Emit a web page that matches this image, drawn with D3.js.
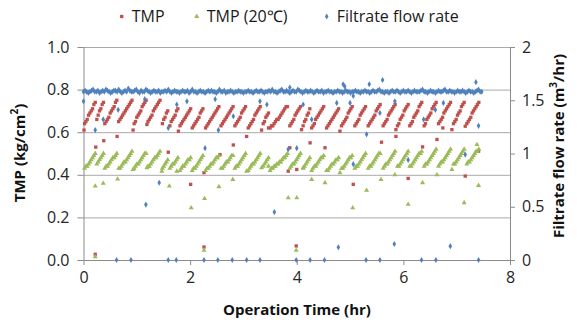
<!DOCTYPE html>
<html><head><meta charset="utf-8">
<script src="https://cdn.jsdelivr.net/npm/d3@7"></script>
<style>
body{margin:0;background:#fff}
svg{display:block}
text{font-family:"Open Sans",sans-serif}
</style>
</head><body>
<svg id="c" width="577" height="322"></svg>
<script>
// ---------- data ----------
const xTicks = [0, 2, 4, 6, 8];
const yLeftTicks = [0, 0.2, 0.4, 0.6, 0.8, 1.0];
const yRightTicks = [0, 0.5, 1, 1.5, 2];
const seriesNames = ["TMP", "TMP (20\u2103)", "Filtrate flow rate"];

// filtration cycles: start time (hr) of each run, logged every sampleStep hr
const sampleStep = 0.025;
const cycleStart = [0.02,0.25,0.40,0.66,0.95,1.21,1.48,1.62,1.81,2.04,2.29,2.58,2.84,3.09,3.37,3.50,3.87,4.12,4.28,4.56,4.84,5.09,5.34,5.62,5.89,6.12,6.39,6.66,6.94,7.19];

const tmpCycles = [
 [0.64,0.65,0.66,0.68,0.69,0.70,0.71,0.73,0.74],
 [0.66,0.68,0.70,0.71,0.73,0.74],
 [0.64,0.65,0.66,0.67,0.69,0.70,0.71,0.72,0.74,0.75],
 [0.65,0.66,0.67,0.68,0.69,0.70,0.71,0.72,0.73,0.74,0.75],
 [0.64,0.65,0.67,0.68,0.69,0.70,0.72,0.73,0.74,0.75],
 [0.65,0.66,0.67,0.68,0.70,0.71,0.72,0.73,0.74,0.75],
 [0.64,0.66,0.67,0.69,0.70],
 [0.63,0.65,0.66,0.67,0.68,0.70,0.71],
 [0.63,0.64,0.65,0.66,0.67,0.68,0.69,0.70,0.71],
 [0.62,0.63,0.64,0.65,0.66,0.67,0.69,0.70,0.71],
 [0.62,0.63,0.64,0.65,0.66,0.67,0.68,0.69,0.70,0.71,0.72],
 [0.63,0.64,0.65,0.66,0.67,0.68,0.69,0.70,0.71,0.72],
 [0.63,0.64,0.65,0.66,0.67,0.69,0.70,0.71,0.72],
 [0.62,0.63,0.64,0.65,0.66,0.68,0.69,0.70,0.71,0.72],
 [0.64,0.65,0.67,0.68,0.69],
 [0.62,0.63,0.63,0.64,0.65,0.66,0.66,0.67,0.68,0.69,0.70,0.71,0.72,0.72],
 [0.63,0.64,0.65,0.66,0.68,0.69,0.70,0.71,0.72],
 [0.63,0.65,0.66,0.68,0.69,0.71],
 [0.62,0.63,0.64,0.66,0.67,0.68,0.69,0.70,0.71,0.72],
 [0.62,0.63,0.64,0.65,0.66,0.67,0.68,0.69,0.70,0.71],
 [0.63,0.64,0.65,0.66,0.67,0.69,0.70,0.71,0.72],
 [0.63,0.64,0.65,0.66,0.68,0.69,0.70,0.71,0.72],
 [0.63,0.64,0.65,0.66,0.67,0.68,0.70,0.71,0.72,0.73],
 [0.63,0.64,0.65,0.66,0.68,0.69,0.70,0.71,0.72,0.73],
 [0.63,0.64,0.66,0.67,0.68,0.70,0.71,0.72,0.73],
 [0.63,0.64,0.65,0.67,0.68,0.69,0.70,0.72,0.73,0.74],
 [0.63,0.64,0.66,0.67,0.68,0.69,0.71,0.72,0.73,0.74],
 [0.64,0.65,0.66,0.67,0.69,0.70,0.71,0.72,0.73,0.74],
 [0.64,0.65,0.66,0.68,0.69,0.70,0.72,0.73,0.74],
 [0.64,0.65,0.66,0.67,0.69,0.70,0.71,0.72,0.73,0.74]
];

const tmp20Cycles = [
 [0.43,0.44,0.44,0.45,0.46,0.47,0.48,0.49,0.50],
 [0.45,0.46,0.47,0.48,0.49,0.50],
 [0.43,0.44,0.44,0.45,0.46,0.47,0.48,0.48,0.49,0.50],
 [0.43,0.43,0.44,0.45,0.46,0.46,0.47,0.48,0.49,0.50,0.51],
 [0.43,0.44,0.45,0.45,0.46,0.47,0.48,0.49,0.50,0.50],
 [0.44,0.44,0.45,0.46,0.47,0.48,0.48,0.49,0.50,0.51],
 [0.43,0.44,0.45,0.46,0.47],
 [0.43,0.44,0.45,0.45,0.46,0.47,0.48],
 [0.42,0.43,0.44,0.44,0.45,0.46,0.47,0.47,0.48],
 [0.42,0.43,0.43,0.44,0.45,0.46,0.47,0.48,0.49],
 [0.42,0.43,0.43,0.44,0.45,0.45,0.46,0.47,0.48,0.48,0.49],
 [0.43,0.43,0.44,0.45,0.46,0.46,0.47,0.48,0.49,0.49],
 [0.43,0.44,0.44,0.45,0.46,0.47,0.48,0.49,0.50],
 [0.42,0.43,0.44,0.45,0.45,0.46,0.47,0.48,0.49,0.50],
 [0.44,0.45,0.46,0.47,0.48],
 [0.42,0.43,0.43,0.44,0.44,0.45,0.45,0.46,0.46,0.47,0.48,0.48,0.49,0.50],
 [0.43,0.44,0.45,0.45,0.46,0.47,0.48,0.49,0.50],
 [0.43,0.44,0.45,0.46,0.47,0.48],
 [0.42,0.43,0.44,0.44,0.45,0.46,0.47,0.48,0.48,0.49],
 [0.42,0.42,0.43,0.44,0.45,0.45,0.46,0.47,0.47,0.48],
 [0.43,0.43,0.44,0.45,0.46,0.47,0.48,0.48,0.49],
 [0.43,0.44,0.44,0.45,0.46,0.47,0.48,0.49,0.50],
 [0.43,0.44,0.44,0.45,0.46,0.47,0.48,0.49,0.50,0.50],
 [0.43,0.44,0.45,0.45,0.46,0.47,0.48,0.49,0.50,0.51],
 [0.44,0.44,0.45,0.46,0.47,0.48,0.49,0.50,0.51],
 [0.44,0.44,0.45,0.46,0.47,0.48,0.49,0.50,0.50,0.51],
 [0.44,0.45,0.45,0.46,0.47,0.48,0.49,0.50,0.51,0.52],
 [0.44,0.45,0.46,0.46,0.47,0.48,0.49,0.50,0.51,0.52],
 [0.45,0.45,0.46,0.47,0.48,0.49,0.50,0.51,0.52],
 [0.45,0.46,0.46,0.47,0.48,0.49,0.50,0.51,0.51,0.52]
];

// scattered TMP readings at backwash / restart moments [time, value]
const tmpExtra = [[0.01,0.61],[0.23,0.53],[0.38,0.56],[0.63,0.58],[0.93,0.61],[1.19,0.636],[1.59,0.506],[1.78,0.605],[2.01,0.355],[2.26,0.41],[2.56,0.495],[2.81,0.54],[3.06,0.58],[3.34,0.61],[3.47,0.62],[3.84,0.417],[3.87,0.527],[4.0,0.425],[4.09,0.612],[4.25,0.55],[4.53,0.527],[4.81,0.605],[5.06,0.355],[5.59,0.553],[5.86,0.612],[5.86,0.58],[6.09,0.383],[6.36,0.531],[6.63,0.566],[6.74,0.62],[6.91,0.612],[7.16,0.628],[7.16,0.394],[7.41,0.51],[0.22,0.027],[2.26,0.061],[3.99,0.066]];
const tmp20Extra = [[0.22,0.347],[0.37,0.36],[0.64,0.38],[0.93,0.425],[1.19,0.433],[1.47,0.417],[1.61,0.347],[1.75,0.417],[2.02,0.245],[2.27,0.288],[2.54,0.344],[2.8,0.378],[3.06,0.417],[3.34,0.433],[3.47,0.44],[3.84,0.292],[4.0,0.292],[4.12,0.433],[4.28,0.378],[4.53,0.363],[4.81,0.41],[5.05,0.245],[5.31,0.327],[5.58,0.378],[5.84,0.40],[6.09,0.261],[6.36,0.363],[6.63,0.40],[6.91,0.425],[7.14,0.269],[7.41,0.35],[7.38,0.542],[0.22,0.015],[2.26,0.045],[3.99,0.045]];

// flow rate logged every flowStep hr from t = 0
const flowStep = 0.03;
const flowBase = [
 1.58,1.59,1.58,1.57,1.58,1.59,1.60,1.58,1.58,1.59,
 1.57,1.58,1.59,1.58,1.60,1.59,1.58,1.57,1.58,1.59,
 1.59,1.58,1.60,1.58,1.57,1.58,1.59,1.58,1.61,1.59,
 1.58,1.58,1.59,1.60,1.58,1.57,1.59,1.58,1.58,1.60,
 1.59,1.58,1.57,1.58,1.59,1.58,1.58,1.59,1.57,1.58,
 1.58,1.59,1.58,1.60,1.58,1.57,1.58,1.59,1.58,1.58,
 1.57,1.58,1.59,1.58,1.58,1.59,1.57,1.58,1.60,1.58,
 1.58,1.57,1.58,1.59,1.58,1.58,1.57,1.58,1.59,1.58,
 1.59,1.58,1.58,1.57,1.58,1.60,1.58,1.58,1.59,1.57,
 1.58,1.58,1.59,1.58,1.57,1.58,1.58,1.59,1.58,1.58,
 1.57,1.58,1.58,1.59,1.58,1.58,1.57,1.58,1.59,1.58,
 1.58,1.59,1.58,1.57,1.58,1.58,1.59,1.58,1.60,1.58,
 1.58,1.57,1.58,1.59,1.60,1.58,1.58,1.59,1.58,1.57,
 1.58,1.59,1.58,1.58,1.60,1.59,1.58,1.57,1.58,1.59,
 1.58,1.58,1.59,1.58,1.57,1.58,1.59,1.58,1.58,1.59,
 1.57,1.58,1.58,1.59,1.58,1.58,1.57,1.58,1.58,1.59,
 1.58,1.58,1.57,1.58,1.59,1.58,1.58,1.57,1.58,1.58,
 1.59,1.58,1.58,1.57,1.58,1.58,1.59,1.58,1.58,1.57,
 1.58,1.59,1.58,1.58,1.59,1.60,1.58,1.58,1.57,1.58,
 1.58,1.57,1.58,1.59,1.58,1.58,1.59,1.58,1.57,1.58,
 1.59,1.58,1.58,1.59,1.58,1.57,1.58,1.59,1.58,1.58,
 1.58,1.59,1.60,1.58,1.58,1.57,1.58,1.59,1.58,1.58,
 1.57,1.58,1.59,1.58,1.58,1.59,1.60,1.58,1.58,1.59,
 1.58,1.58,1.57,1.58,1.59,1.58,1.58,1.59,1.58,1.57,
 1.58,1.59,1.58,1.58,1.57,1.58,1.59,1.60,1.58,1.58
];
const flowExtra = [[3.87,1.62],[4.87,1.65],[5.36,1.65],[5.61,1.69],[7.36,1.67],[4.9,1.63],
 [0,1.49],[0.22,1.22],[0.37,1.32],[0.65,1.41],[1.15,1.51],[1.59,1.24],[1.75,1.46],[1.94,1.49],[2.28,1.05],[2.47,1.51],[2.53,1.22],[2.81,1.35],[3.31,1.49],[3.44,1.46],[3.84,1.04],[4.0,1.05],[4.12,1.46],[4.28,1.32],[4.75,1.475],[5.0,1.475],[5.06,1.54],[5.31,1.18],[5.56,1.38],[5.84,1.49],[6.38,1.32],[6.6,1.41],[6.75,1.475],[7.41,1.26],[5.06,0.9],[6.09,0.94],[7.16,0.99],
 [1.17,0.52],[1.42,0.725],[3.58,0.45],[4.78,0.12],[5.83,0.15],[6.88,0.13],
 [0.62,0],[0.89,0],[1.59,0],[1.74,0],[2.26,0],[2.52,0],[2.79,0],[3.06,0],[3.31,0],[3.99,0],[4.25,0],[4.52,0],[5.3,0],[5.56,0],[6.34,0],[6.61,0],[7.41,0]];

// ---------- build point tables ----------
function fromCycles(cycles){
  const out=[];
  cycles.forEach((vals,i)=>vals.forEach((v,j)=>out.push([cycleStart[i]+j*sampleStep, v])));
  return out;
}
const tmpPts = fromCycles(tmpCycles).concat(tmpExtra);
const tmp20Pts = fromCycles(tmp20Cycles).concat(tmp20Extra);
const flowPts = flowBase.map((v,i)=>[i*flowStep, v]).concat(flowExtra);

// ---------- layout ----------
const svg = d3.select("#c");
const L = 83.5, R = 510, T = 47, B = 260;
const x = d3.scaleLinear().domain([0,8]).range([L,R]);
const yL = d3.scaleLinear().domain([0,1]).range([B,T]);
const yR = d3.scaleLinear().domain([0,2]).range([B,T]);
const gridCol = "#a9a9a9", axisCol = "#8c8c8c", tickTxt = "#262626";
const colors = ["#C0504D","#9BBB59","#4F81BD"];
const symbols = [d3.symbolSquare, d3.symbolTriangle, d3.symbolDiamond];
const sizes = [11, 11, 11];

// gridlines
svg.append("g").selectAll("line").data(yLeftTicks.filter(d=>d>0)).join("line")
  .attr("x1",L).attr("x2",R).attr("y1",d=>yL(d)+0.5).attr("y2",d=>yL(d)+0.5)
  .attr("stroke",gridCol).attr("stroke-width",1);

// axes
const fmt1 = d3.format(".1f");
const axL = svg.append("g").attr("transform",`translate(${L},0)`)
  .call(d3.axisLeft(yL).tickValues(yLeftTicks).tickFormat(fmt1).tickSize(6).tickPadding(8));
const axR = svg.append("g").attr("transform",`translate(${R},0)`)
  .call(d3.axisRight(yR).tickValues(yRightTicks).tickFormat(d=>String(d)).tickSize(5).tickPadding(7));
const axB = svg.append("g").attr("transform",`translate(0,${B})`)
  .call(d3.axisBottom(x).tickValues(xTicks).tickFormat(d=>String(d)).tickSize(5).tickPadding(7));
[axL,axR,axB].forEach(a=>{
  a.select(".domain").attr("stroke",axisCol);
  a.selectAll(".tick line").attr("stroke",axisCol);
  a.selectAll(".tick text").attr("fill",tickTxt).style("font-size","16px").style("font-family","'Open Sans',sans-serif");
});
axB.select(".domain").attr("d",`M${L},0.5H${R}`);
axL.select(".domain").attr("d",`M0.5,${T}V${B}`);
axR.select(".domain").attr("d",`M0.5,${T}V${B}`);

// points
function drawPts(pts, sx, sy, k){
  svg.append("g").selectAll("path").data(pts).join("path")
    .attr("d", d3.symbol().type(symbols[k]).size(sizes[k]))
    .attr("transform", d=>`translate(${sx(d[0])},${sy(d[1])})`)
    .attr("fill", colors[k]);
}
drawPts(tmpPts, x, yL, 0);
drawPts(tmp20Pts, x, yL, 1);
drawPts(flowPts, x, yR, 2);

// titles
svg.append("text").attr("x",297).attr("y",315).attr("text-anchor","middle")
  .style("font-size","15px").style("font-weight","bold").attr("fill","#111").text("Operation Time (hr)");
const lt = svg.append("text").attr("transform","translate(25,153) rotate(-90)").attr("text-anchor","middle")
  .style("font-size","15px").style("font-weight","bold").attr("fill","#111");
lt.append("tspan").text("TMP (kg/cm");
lt.append("tspan").attr("baseline-shift","super").style("font-size","10px").text("2");
lt.append("tspan").text(")");
const rt = svg.append("text").attr("transform","translate(564,146) rotate(-90)").attr("text-anchor","middle")
  .style("font-size","15px").style("font-weight","bold").attr("fill","#111");
rt.append("tspan").text("Filtrate flow rate (m");
rt.append("tspan").attr("baseline-shift","super").style("font-size","10px").text("3");
rt.append("tspan").text("/hr)");

// legend
const legX = [121.7, 196.7, 326.7];
const lg = svg.append("g");
seriesNames.forEach((n,k)=>{
  lg.append("path").attr("d", d3.symbol().type(symbols[k]).size(sizes[k]))
    .attr("transform",`translate(${legX[k]},16.5)`).attr("fill",colors[k]);
  lg.append("text").attr("x",legX[k]+10).attr("y",22).style("font-size","16px")
    .attr("fill","#1a1a1a").text(n);
});
</script>
</body></html>
